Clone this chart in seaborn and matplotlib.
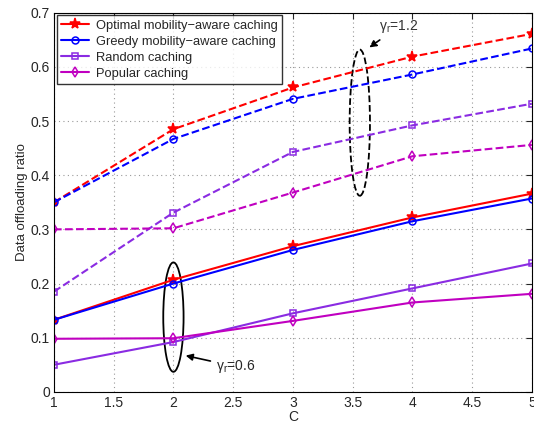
import matplotlib
matplotlib.use("Agg")
import matplotlib.pyplot as plt
import seaborn as sns
from matplotlib.patches import Ellipse


sns.set_style("white")
plt.rcParams["font.family"] = ["Liberation Sans", "DejaVu Sans"]

# -----------------------------------
# Data
# -----------------------------------

cache_size = [1, 2, 3, 4, 5]

series_names = [
    "Optimal mobility\u2212aware caching",
    "Greedy mobility\u2212aware caching",
    "Random caching",
    "Popular caching",
]

# gamma_r = 1.2 (dashed)
optimal_high = [0.350, 0.485, 0.562, 0.619, 0.661]
greedy_high = [0.350, 0.467, 0.541, 0.586, 0.634]
random_high = [0.185, 0.331, 0.443, 0.492, 0.532]
popular_high = [0.300, 0.302, 0.368, 0.435, 0.456]

# gamma_r = 0.6 (solid)
optimal_low = [0.133, 0.207, 0.269, 0.322, 0.366]
greedy_low = [0.133, 0.200, 0.262, 0.315, 0.357]
random_low = [0.050, 0.092, 0.145, 0.191, 0.237]
popular_low = [0.098, 0.099, 0.131, 0.165, 0.181]

colors = ["#ff0000", "#0000ff", "#8a2be2", "#c000c0"]
markers = ["*", "o", "s", "d"]

# -----------------------------------
# Plot
# -----------------------------------

fig = plt.figure(figsize=(5.34, 4.25), dpi=100)
ax = fig.add_axes([0.101, 0.078, 0.895, 0.892])

low_sets = [optimal_low, greedy_low, random_low, popular_low]
high_sets = [optimal_high, greedy_high, random_high, popular_high]

handles = []
for name, color, marker, low, high in zip(
    series_names, colors, markers, low_sets, high_sets
):
    face = color if marker == "*" else "none"
    size = 8 if marker == "*" else 5
    sns.lineplot(
        x=cache_size, y=low, color=color, marker=marker,
        markersize=size, markerfacecolor=face, markeredgecolor=color,
        markeredgewidth=1.1, linewidth=1.5, linestyle="-", ax=ax,
    )
    sns.lineplot(
        x=cache_size, y=high, color=color, marker=marker,
        markersize=size, markerfacecolor=face, markeredgecolor=color,
        markeredgewidth=1.1, linewidth=1.5, linestyle="--",
        dashes=(4, 3), ax=ax,
    )
    handles.append(ax.lines[-2])

# Ellipses and annotations
ax.add_patch(Ellipse((3.56, 0.497), 0.17, 0.27, angle=0,
                     fill=False, edgecolor="black", linestyle="--",
                     linewidth=1.3))
ax.add_patch(Ellipse((2.0, 0.138), 0.17, 0.202, fill=False,
                     edgecolor="black", linewidth=1.3))

ax.annotate("\u03b3$_\\mathregular{r}$=1.2", xy=(3.62, 0.633),
            xytext=(3.72, 0.668), fontsize=10, color="#333333",
            arrowprops=dict(arrowstyle="-|>", color="black",
                            linestyle="--", lw=1.2))
ax.annotate("\u03b3$_\\mathregular{r}$=0.6", xy=(2.08, 0.068),
            xytext=(2.36, 0.04), fontsize=10,
            arrowprops=dict(arrowstyle="-|>", color="black", lw=1.2))

# Axes styling
ax.set_xlim(1, 5)
ax.set_ylim(0, 0.7)
ax.set_xticks([1, 1.5, 2, 2.5, 3, 3.5, 4, 4.5, 5])
ax.set_xticklabels(["1", "1.5", "2", "2.5", "3", "3.5", "4", "4.5", "5"])
ax.set_yticks([0, 0.1, 0.2, 0.3, 0.4, 0.5, 0.6, 0.7])
ax.set_yticklabels(["0", "0.1", "0.2", "0.3", "0.4", "0.5", "0.6", "0.7"])
ax.tick_params(direction="in", length=4, top=True, right=True,
               labelsize=10, pad=3)
ax.grid(True, linestyle=(0, (1, 3)), color="#999999", linewidth=0.8)
for spine in ax.spines.values():
    spine.set_color("black")
    spine.set_linewidth(0.8)

ax.set_xlabel("C", fontsize=10, labelpad=0)
ax.set_ylabel("Data offloading ratio", fontsize=9.5, labelpad=2)

leg = ax.legend(handles, series_names, loc="upper left", fontsize=9.3,
                frameon=True, fancybox=False, borderaxespad=0.2,
                handlelength=2.2, handletextpad=0.5, labelspacing=0.3,
                borderpad=0.35)
leg.get_frame().set_edgecolor("black")
leg.get_frame().set_linewidth(1.0)

plt.savefig("out.png", dpi=100)
plt.close(fig)
